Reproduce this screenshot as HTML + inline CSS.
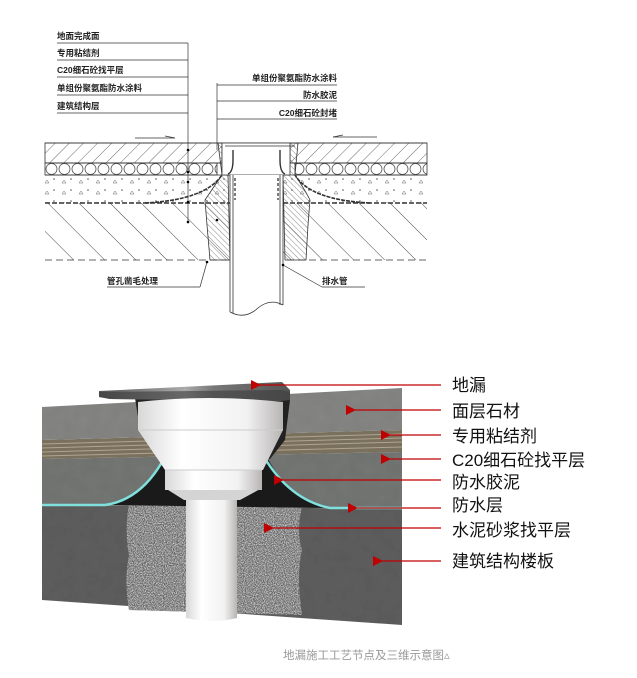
<!DOCTYPE html>
<html><head><meta charset="utf-8"><style>
body{margin:0;background:#fff;}
svg{display:block;font-family:"Liberation Sans","Noto Sans CJK SC",sans-serif;}
</style></head><body>
<svg width="637" height="678" viewBox="0 0 637 678" xmlns="http://www.w3.org/2000/svg">
<defs>
<pattern id="h1" width="10" height="10" patternUnits="userSpaceOnUse" patternTransform="rotate(45)"><line x1="0" y1="0" x2="0" y2="10" stroke="#444" stroke-width="0.8"/></pattern>
<pattern id="h2" width="22" height="22" patternUnits="userSpaceOnUse" patternTransform="rotate(-45)"><line x1="0" y1="0" x2="0" y2="22" stroke="#333" stroke-width="0.9"/></pattern>
<pattern id="h3" width="4" height="4" patternUnits="userSpaceOnUse" patternTransform="rotate(-45)"><line x1="0" y1="0" x2="0" y2="4" stroke="#555" stroke-width="0.7"/></pattern>
<pattern id="hex" width="13" height="12" patternUnits="userSpaceOnUse" x="45" y="163"><circle cx="6.5" cy="6" r="5.5" fill="none" stroke="#555" stroke-width="0.8"/></pattern>
<pattern id="dots" width="17" height="11" patternUnits="userSpaceOnUse"><circle cx="3" cy="3" r="0.8" fill="#555"/><path d="M11 7 l2 -3 l2 3z" fill="none" stroke="#666" stroke-width="0.5"/></pattern>
<filter id="stone" x="0" y="0" width="100%" height="100%"><feTurbulence type="fractalNoise" baseFrequency="0.08" numOctaves="3" seed="3"/><feColorMatrix type="matrix" values="0 0 0 0 0.5  0 0 0 0 0.5  0 0 0 0 0.5  0 0 0 0.25 0"/><feComposite in2="SourceGraphic" operator="in"/><feBlend in2="SourceGraphic" mode="multiply"/></filter>
<filter id="grain" x="0" y="0" width="100%" height="100%"><feTurbulence type="fractalNoise" baseFrequency="0.9" numOctaves="2" seed="5"/><feColorMatrix type="matrix" values="0 0 0 0 1  0 0 0 0 1  0 0 0 0 1  0 0 0 1.6 -0.5"/><feComposite in2="SourceGraphic" operator="in"/></filter>
<linearGradient id="cyl" x1="0" x2="1"><stop offset="0" stop-color="#d8d8d8"/><stop offset="0.3" stop-color="#ffffff"/><stop offset="0.75" stop-color="#f2f2f2"/><stop offset="1" stop-color="#b8b4b4"/></linearGradient>
<linearGradient id="plate" x1="0" x2="1"><stop offset="0" stop-color="#555"/><stop offset="0.45" stop-color="#aaa"/><stop offset="0.6" stop-color="#777"/><stop offset="1" stop-color="#555"/></linearGradient>
<marker id="ar" viewBox="0 0 10 10" refX="1" refY="5" markerWidth="14" markerHeight="10" markerUnits="userSpaceOnUse" orient="auto"><path d="M10 0 L0 5 L10 10z" fill="#c00000"/></marker>
</defs>

<g stroke="#333" fill="none" stroke-width="0.8">
<rect x="45" y="143" width="177" height="20" fill="url(#h1)"/>
<rect x="290" y="143" width="137" height="20" fill="url(#h1)"/>
<rect x="45" y="163" width="172" height="12" fill="url(#hex)"/>
<rect x="295" y="163" width="132" height="12" fill="url(#hex)"/>
<rect x="45" y="175" width="382" height="28" fill="url(#dots)" stroke="none"/>
<rect x="45" y="203" width="382" height="57" fill="url(#h2)" stroke="none"/>
<line x1="45" y1="143" x2="427" y2="143"/>
<line x1="45" y1="163" x2="427" y2="163"/>
<line x1="45" y1="175" x2="427" y2="175"/>
<line x1="45" y1="203" x2="427" y2="203" stroke-dasharray="5,2" stroke-width="1.6"/>
<line x1="45" y1="260" x2="427" y2="260" stroke-dasharray="7,4"/>
<path d="M218 143 L225 143 L228 175 L230 260 L210 260 L207 225 L205 200 Q215 185 222 175z" fill="url(#h3)"/>
<path d="M290 143 L298 143 L295 175 Q305 190 310 200 L308 225 L306 260 L285 260 L283 175z" fill="url(#h3)"/>
<path d="M145 203 Q205 200 222 175" stroke-width="1.6" stroke-dasharray="4,1"/>
<path d="M370 203 Q310 200 295 175" stroke-width="1.6" stroke-dasharray="4,1"/>
<rect x="222" y="143" width="68" height="32" fill="#fff"/>
<path d="M225 146 L295 146" />
<path d="M233 150 L233 160 Q233 172 228 174" stroke-width="1.4"/>
<path d="M280 150 L280 160 Q280 172 285 174" stroke-width="1.4"/>
<rect x="230" y="175" width="53" height="140" fill="#fff" stroke="none"/>
<line x1="230" y1="175" x2="230" y2="312"/><line x1="233" y1="175" x2="233" y2="313"/>
<line x1="280" y1="175" x2="280" y2="305"/><line x1="283" y1="175" x2="283" y2="305"/>
<path d="M230 312 Q245 320 258 308 Q270 298 283 305"/>
<line x1="235" y1="178" x2="235" y2="200" stroke-dasharray="3,2" stroke-width="1.3"/>
<line x1="278" y1="178" x2="278" y2="200" stroke-dasharray="3,2" stroke-width="1.3"/>
<g stroke-width="0.7">
<line x1="57" y1="43" x2="188" y2="43"/><line x1="57" y1="60" x2="188" y2="60"/><line x1="57" y1="77" x2="188" y2="77"/><line x1="57" y1="95" x2="188" y2="95"/><line x1="57" y1="113" x2="188" y2="113"/>
<line x1="188" y1="43" x2="188" y2="222"/>
<line x1="217" y1="85" x2="337" y2="85"/><line x1="217" y1="101" x2="337" y2="101"/><line x1="217" y1="119" x2="337" y2="119"/>
<line x1="217" y1="83" x2="217" y2="150"/>
<line x1="107" y1="287" x2="200" y2="287"/><line x1="200" y1="287" x2="207" y2="262"/>
<line x1="322" y1="287" x2="365" y2="287"/><line x1="322" y1="287" x2="283" y2="265"/>
<line x1="135" y1="138" x2="175" y2="138"/><line x1="165" y1="136" x2="175" y2="138"/>
<line x1="333" y1="137" x2="377" y2="137"/><line x1="333" y1="137" x2="343" y2="135"/>
</g>
<g fill="#000" stroke="none"><circle cx="188" cy="150" r="1.3"/><circle cx="188" cy="172" r="1.3"/><circle cx="188" cy="182" r="1.3"/><circle cx="188" cy="202" r="1.3"/><circle cx="188" cy="222" r="1.3"/><circle cx="207" cy="262" r="1.3"/><circle cx="283" cy="265" r="1.3"/><circle cx="217" cy="220" r="1.3"/></g>
</g>
<g font-size="8.5" font-weight="bold" fill="#222">
<text x="57" y="39">地面完成面</text><text x="57" y="56">专用粘结剂</text><text x="57" y="73">C20细石砼找平层</text><text x="57" y="91">单组份聚氨酯防水涂料</text><text x="57" y="109">建筑结构层</text>
<text x="337" y="81" text-anchor="end">单组份聚氨酯防水涂料</text><text x="337" y="98" text-anchor="end">防水胶泥</text><text x="337" y="116" text-anchor="end">C20细石砼封堵</text>
<text x="107" y="284">管孔凿毛处理</text><text x="322" y="284">排水管</text>
</g>

<path d="M42 505 L402 509 L402 625 L42 600z" fill="#5e5e5e" filter="url(#stone)"/>
<path d="M42 459 L402 452 L402 509 L42 505z" fill="#747774" filter="url(#stone)"/>
<path d="M42 440 L402 430 L402 452 L42 459z" fill="#7a705e"/>
<g stroke="#b0a58e" stroke-width="1"><path d="M42 444 L402 434"/><path d="M42 448 L402 438"/><path d="M42 452 L402 442"/><path d="M42 456 L402 447"/></g>
<path d="M42 407 L402 388 L402 430 L42 440z" fill="#868684" filter="url(#stone)"/>
<path d="M129 505 L302 508 Q296 530 302 550 Q296 575 302 615 L129 610 Q124 580 129 555 Q124 530 129 505z" fill="#5e5e5e"/>
<path d="M129 505 L302 508 Q296 530 302 550 Q296 575 302 615 L129 610 Q124 580 129 555 Q124 530 129 505z" fill="#9a9a9a" filter="url(#grain)"/>
<path d="M105 505 Q140 500 160 463 L268 459 Q290 500 330 508z" fill="#1a1a1a"/>
<path d="M135 398 L290 400 L285 440 L270 459 L160 463 L140 430z" fill="#222"/>
<path d="M42 505 L105 505 Q140 500 162 462" fill="none" stroke="#7fe0dc" stroke-width="2.5"/>
<path d="M264 457 Q290 500 330 508 L402 508" fill="none" stroke="#7fe0dc" stroke-width="2.5"/>
<path d="M99 391 L282 382 L290 390 L290 400 L280 401 L110 399 L99 397z" fill="url(#plate)"/>
<path d="M99 397 L110 399 L280 401 L290 400 L290 392 L282 390 L99 392z" fill="#3c3c3c" opacity="0.6"/>
<path d="M186 495 L237 495 L237 618 Q212 624 186 618z" fill="url(#cyl)"/>
<path d="M165 488 L262 488 L240 500 L184 500z" fill="#d4d4d4"/>
<rect x="165" y="470" width="97" height="20" fill="url(#cyl)"/>
<path d="M138 430 L283 430 L263 470 L165 470z" fill="url(#cyl)"/>
<path d="M138 402 Q210 394 283 402 L283 430 L138 430z" fill="url(#cyl)"/>
<line x1="138" y1="430" x2="283" y2="430" stroke="#ccc" stroke-width="1"/>
<line x1="165" y1="470" x2="262" y2="470" stroke="#ccc" stroke-width="1"/>

<g stroke="#c00000" stroke-width="1.3" marker-end="url(#ar)">
<line x1="441" y1="385" x2="260" y2="385"/>
<line x1="441" y1="410" x2="355" y2="410"/>
<line x1="441" y1="435" x2="390" y2="435"/>
<line x1="441" y1="459" x2="390" y2="459"/>
<line x1="441" y1="480" x2="283" y2="480"/>
<line x1="441" y1="508" x2="357" y2="508"/>
<line x1="441" y1="528" x2="273" y2="528"/>
<line x1="441" y1="561" x2="382" y2="561"/>
</g>
<g font-size="17" fill="#111">
<text x="452" y="391">地漏</text><text x="452" y="417">面层石材</text><text x="452" y="442">专用粘结剂</text><text x="452" y="466">C20细石砼找平层</text><text x="452" y="488">防水胶泥</text><text x="452" y="511">防水层</text><text x="452" y="536">水泥砂浆找平层</text><text x="452" y="567">建筑结构楼板</text>
</g>
<text x="283" y="659" font-size="11.5" fill="#999">地漏施工工艺节点及三维示意图▵</text>
</svg>
</body></html>
